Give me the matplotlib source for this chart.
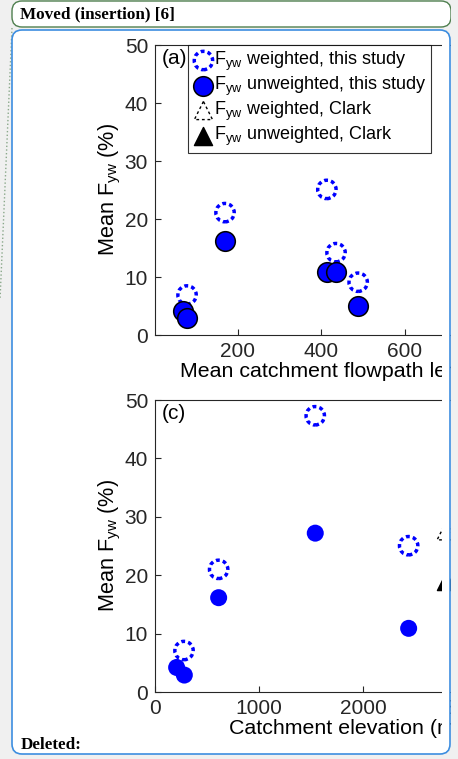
import matplotlib
matplotlib.use("Agg")
import matplotlib.pyplot as plt
from matplotlib.patches import FancyBboxPatch, Rectangle
from matplotlib.lines import Line2D
from matplotlib.transforms import IdentityTransform

plt.rcParams['font.family'] = ['Liberation Sans', 'DejaVu Sans']
plt.rcParams['mathtext.default'] = 'regular'

# (a) mean catchment flowpath length (m) vs mean Fyw (%)
flow_w = [78, 169, 413, 435, 488]
fyw_w_a = [6.9, 21.1, 25.1, 14.2, 9.1]
flow_u = [69, 78, 169, 413, 435, 488]
fyw_u_a = [4.2, 2.9, 16.2, 10.9, 10.9, 5.05]

# (c) catchment elevation (m) vs mean Fyw (%)
elev_w = [279, 612, 1541, 2439]
fyw_w_c = [7.1, 21.0, 47.3, 25.05]
elev_u = [208, 282, 612, 1541, 2439]
fyw_u_c = [4.2, 2.9, 16.15, 27.2, 10.9]
clark_elev = [2800]
clark_w = [27.6]
clark_u = [19.0]

W, H = 458, 759
BLUE = '#0000ff'
INK = '#262626'
dash = (0, (1.1, 0.9))

fig = plt.figure(figsize=(W / 100, H / 100), dpi=100)
fig.patch.set_facecolor('#f0f0f0')
ident = IdentityTransform()


def box(x0, y0, x1, y1, **kw):
    # pixel box measured from the top-left corner
    return FancyBboxPatch((x0, H - y1), x1 - x0, y1 - y0,
                          boxstyle="round,pad=0,rounding_size=10",
                          transform=ident, **kw)


# balloon backgrounds
fig.add_artist(box(12, 30, 450, 754, facecolor='white', edgecolor='none', zorder=-2))
fig.add_artist(box(12, 1, 451, 27, facecolor='white', edgecolor='#4f7f4f', lw=1.0, zorder=-2))
fig.text(20, H - 14, "Moved (insertion) [6]", transform=ident, family='Liberation Serif',
         weight='bold', fontsize=12.3, va='center', ha='left')
fig.add_artist(Line2D([12, 0], [H - 28, H - 300], transform=ident, color='#8aa88a',
                      lw=1.0, ls=':', zorder=-1))


def style_axes(ax):
    for s in ax.spines.values():
        s.set_color(INK)
        s.set_linewidth(0.8)
    ax.tick_params(direction='in', length=4, width=0.8, colors=INK,
                   labelsize=15, pad=5, top=False, right=False)


def fx(px):
    return px / W


def fy(px):
    return 1 - px / H


# panel (a)
axa = fig.add_axes([fx(155), fy(335), fx(551 - 155), (335 - 45) / H])
style_axes(axa)
axa.scatter(flow_w, fyw_w_a, s=175, facecolors='none', edgecolors=BLUE,
            linewidths=2.5, linestyle=dash, zorder=3)
axa.scatter(flow_u, fyw_u_a, s=200, facecolors=BLUE, edgecolors='black',
            linewidths=1.1, zorder=4)
axa.set_xlim(1.2, 950)
axa.set_ylim(0, 50)
axa.set_xticks([200, 400, 600, 800])
axa.set_yticks([0, 10, 20, 30, 40, 50])
axa.set_xlabel("Mean catchment flowpath length (m)", fontsize=15.4, color='black', labelpad=1)
axa.set_ylabel("Mean $F_{yw}$ (%)", fontsize=15.6, color='black', labelpad=1)
axa.text(0.018, 0.985, "(a)", transform=axa.transAxes, fontsize=15, va='top', ha='left')

handles = [
    axa.scatter([], [], s=175, facecolors='none', edgecolors=BLUE, linewidths=2.5, linestyle=dash),
    axa.scatter([], [], s=200, facecolors=BLUE, edgecolors='black', linewidths=1.1),
    axa.scatter([], [], s=170, marker='^', facecolors='none', edgecolors='black',
                linewidths=1.0, linestyle=(0, (2, 2))),
    axa.scatter([], [], s=170, marker='^', facecolors='black', edgecolors='black'),
]
labels = ["$F_{yw}$ weighted, this study", "$F_{yw}$ unweighted, this study",
          "$F_{yw}$ weighted, Clark", "$F_{yw}$ unweighted, Clark"]
leg = axa.legend(handles, labels, loc='upper left',
                 bbox_to_anchor=((188 - 155) / (551 - 155), 1.0),
                 borderaxespad=0, fontsize=13.0, frameon=True, fancybox=False,
                 handletextpad=0.0, handlelength=1.15, labelspacing=0.1, borderpad=0.28,
                 scatterpoints=1)
leg.get_frame().set_edgecolor('black')
leg.get_frame().set_linewidth(0.8)

# panel (c)
axc = fig.add_axes([fx(155), fy(692), fx(535 - 155), (692 - 400) / H])
style_axes(axc)
axc.scatter(elev_w, fyw_w_c, s=175, facecolors='none', edgecolors=BLUE,
            linewidths=2.5, linestyle=dash, zorder=3)
axc.scatter(elev_u, fyw_u_c, s=150, facecolors=BLUE, edgecolors='none', zorder=4)
axc.scatter(clark_elev, clark_w, s=170, marker='^', facecolors='none', edgecolors='black',
            linewidths=1.0, linestyle=(0, (2, 2)), zorder=3)
axc.scatter(clark_elev, clark_u, s=170, marker='^', facecolors='black', edgecolors='black', zorder=3)
axc.set_xlim(0, 3654)
axc.set_ylim(0, 50)
axc.set_xticks([0, 1000, 2000, 3000])
axc.set_yticks([0, 10, 20, 30, 40, 50])
axc.set_xlabel("Catchment elevation (m)", fontsize=15.4, color='black', labelpad=1)
axc.set_ylabel("Mean $F_{yw}$ (%)", fontsize=15.6, color='black', labelpad=1)
axc.text(0.018, 0.985, "(c)", transform=axc.transAxes, fontsize=15, va='top', ha='left')

# the balloon cuts the figure off on the right
fig.add_artist(Rectangle((442, H - 750), 8, 712, transform=ident, facecolor='white',
                         edgecolor='none', zorder=5))
fig.add_artist(Rectangle((450.5, 0), 10, H, transform=ident, facecolor='#f0f0f0',
                         edgecolor='none', zorder=5))
fig.add_artist(box(12, 30, 450, 754, facecolor='none', edgecolor='#3d8ee0', lw=1.2, zorder=6))
fig.text(21, H - 745, "Deleted:", transform=ident, family='Liberation Serif',
         weight='bold', fontsize=12.3, va='center', ha='left', zorder=7)

fig.savefig("out.png", dpi=100)
